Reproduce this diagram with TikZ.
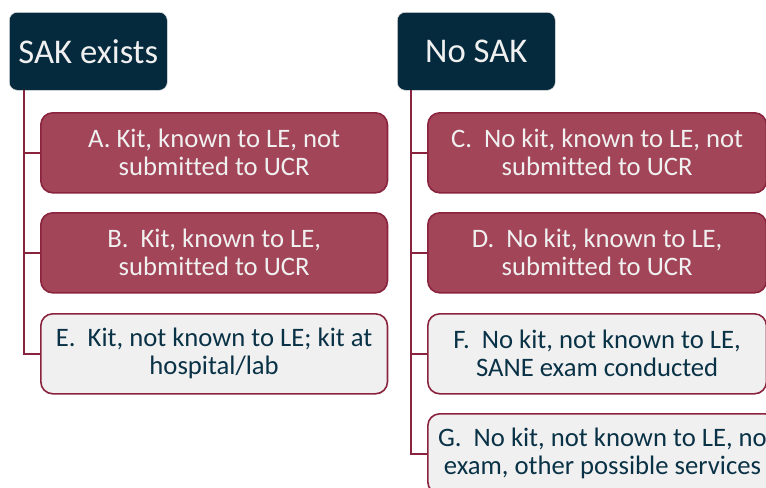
\documentclass[tikz,border=0pt]{standalone}
\usepackage{fontspec}
\setmainfont{Carlito}[Ligatures=NoCommon]
\definecolor{navy}{RGB}{5,42,61}
\definecolor{rose}{RGB}{162,69,88}
\definecolor{wine}{RGB}{138,36,62}
\definecolor{paper}{RGB}{240,240,240}
\definecolor{ink}{RGB}{10,50,70}
\tikzset{
  head/.style={fill=navy,draw=white!88!black,rounded corners=6pt,minimum width=118.5pt,minimum height=58.5pt,text=white!94!black,font=\fontsize{26}{30}\selectfont,anchor=north west},
  casebox/.style={rounded corners=9pt,draw=wine,line width=1.2pt,align=center,minimum height=60pt,inner xsep=2pt,font=\fontsize{20}{21}\selectfont,anchor=north west},
  redbox/.style={casebox,fill=rose,text=white!94!black},
  greybox/.style={casebox,fill=paper,text=ink},
  link/.style={draw=wine,line width=1.5pt}
}
\begin{document}
\begin{tikzpicture}[x=0.75pt,y=-0.75pt]
        \useasboundingbox (0,0) rectangle (766,487);
        \clip (0,0) rectangle (766,487);
        % headers
        \node[head] (sak) at (9,12) {SAK exists};
        \node[head] (nosak) at (397,12) {No SAK};
        \coordinate (sakroot) at (24,90);
        \coordinate (nosakroot) at (411,90);
        % left column
        \node[redbox,minimum width=260pt] (A) at (40,112) {A. Kit, known to LE, not\\submitted to UCR};
        \node[redbox,minimum width=260pt] (B) at (40,212) {B.\ \ Kit, known to LE,\\submitted to UCR};
        \node[greybox,minimum width=260pt] (E) at (40,313) {E.\ \ Kit, not known to LE; kit at\\hospital/lab};
        % right column
        \node[redbox,minimum width=254pt] (C) at (427,112) {C.\ \ No kit, known to LE, not\\submitted to UCR};
        \node[redbox,minimum width=254pt] (D) at (427,212) {D.\ \ No kit, known to LE,\\submitted to UCR};
        \node[greybox,minimum width=254pt] (F) at (427,313) {F.\ \ No kit, not known to LE,\\SANE exam conducted};
        \node[greybox,minimum width=262pt] (G) at (427,413) {G.\ \ No kit, not known to LE, no\\exam, other possible services};
        % connectors
        \draw[link] (sakroot) |- (E.west);
        \draw[link] (sakroot) |- (A.west);
        \draw[link] (sakroot) |- (B.west);
        \draw[link] (nosakroot) |- (G.west);
        \draw[link] (nosakroot) |- (C.west);
        \draw[link] (nosakroot) |- (D.west);
        \draw[link] (nosakroot) |- (F.west);
    \end{tikzpicture}
\end{document}
